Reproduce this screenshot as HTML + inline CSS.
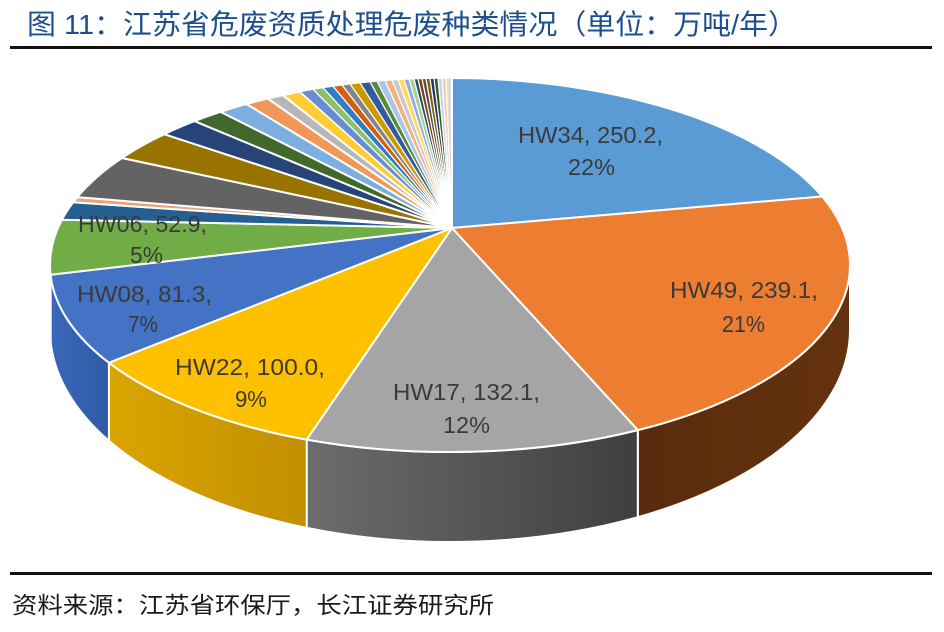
<!DOCTYPE html>
<html>
<head>
<meta charset="utf-8">
<style>
  html, body { margin:0; padding:0; background:#ffffff; }
  svg { display:block; }
  .lbl { font-family:"Liberation Sans", Arial, sans-serif; font-size:23px; fill:#3a3a3a; text-anchor:middle; }
</style>
</head>
<body>
<svg width="944" height="632" viewBox="0 0 944 632" xmlns="http://www.w3.org/2000/svg">
  <defs>
    <linearGradient id="gBrown" gradientUnits="userSpaceOnUse" x1="638" y1="0" x2="850" y2="0">
      <stop offset="0" stop-color="#5a2b0c"/>
      <stop offset="1" stop-color="#64320f"/>
    </linearGradient>
    <linearGradient id="gGray" gradientUnits="userSpaceOnUse" x1="307" y1="0" x2="638" y2="0">
      <stop offset="0" stop-color="#6c6c6c"/>
      <stop offset="1" stop-color="#3f3f42"/>
    </linearGradient>
    <linearGradient id="gGold" gradientUnits="userSpaceOnUse" x1="109" y1="0" x2="307" y2="0">
      <stop offset="0" stop-color="#d9a500"/>
      <stop offset="1" stop-color="#c28f00"/>
    </linearGradient>
    <linearGradient id="gBlue" gradientUnits="userSpaceOnUse" x1="50" y1="0" x2="109" y2="0">
      <stop offset="0" stop-color="#3a68b8"/>
      <stop offset="1" stop-color="#2f5aa6"/>
    </linearGradient>
  </defs>

  <!-- Title -->
  <text x="27" y="34" font-family="'Liberation Sans','Noto Sans CJK SC',sans-serif" font-size="28" fill="#1d4f8f" textLength="770" lengthAdjust="spacingAndGlyphs">图 11：江苏省危废资质处理危废种类情况（单位：万吨/年）</text>
  <rect x="10" y="46" width="922" height="3" fill="#111"/>

  <!-- Sides -->
  <g stroke="#ffffff" stroke-width="2" stroke-linejoin="round">
    <path d="M850,265 A400,187 0 0 1 637.8,430.1 L637.8,517.2 A400,212 0 0 0 850,330 Z" fill="url(#gBrown)"/>
    <path d="M637.8,430.1 A400,187 0 0 1 306.7,439.6 L306.7,527.9 A400,212 0 0 0 637.8,517.2 Z" fill="url(#gGray)"/>
    <path d="M306.7,439.6 A400,187 0 0 1 108.9,362.7 L108.9,440.8 A400,212 0 0 0 306.7,527.9 Z" fill="url(#gGold)"/>
    <path d="M108.9,362.7 A400,187 0 0 1 50.6,274.8 L50.6,341.1 A400,212 0 0 0 108.9,440.8 Z" fill="url(#gBlue)"/>
    <path d="M50.6,274.8 A400,187 0 0 1 50,265 L50,330 A400,212 0 0 0 50.6,341.1 Z" fill="#5a8f39"/>
  </g>

  <!-- Top face -->
  <g stroke="#ffffff" stroke-width="2" stroke-linejoin="round">
    <path d="M452,228 L452,78 A400,187 0 0 1 822.2,196.5 Z" fill="#5b9bd5"/>
    <path d="M452,228 L822.2,196.5 A400,187 0 0 1 637.8,430.1 Z" fill="#ed7d31"/>
    <path d="M452,228 L637.8,430.1 A400,187 0 0 1 306.7,439.6 Z" fill="#a5a5a5"/>
    <path d="M452,228 L306.7,439.6 A400,187 0 0 1 108.9,362.7 Z" fill="#ffc000"/>
    <path d="M452,228 L108.9,362.7 A400,187 0 0 1 50.6,274.8 Z" fill="#4472c4"/>
    <path d="M452,228 L50.6,274.8 A400,187 0 0 1 61.9,219.8 Z" fill="#70ad47"/>
    <path d="M452,228 L61.9,219.8 A400,187 0 0 1 73.2,202.3 Z" fill="#255e91"/>
    <path d="M452,228 L73.2,202.3 A400,187 0 0 1 77.3,197.1 Z" fill="#e9a27a"/>
    <path d="M452,228 L77.3,197.1 A400,187 0 0 1 121.9,158.0 Z" fill="#636363"/>
    <path d="M452,228 L121.9,158.0 A400,187 0 0 1 164.2,134.2 Z" fill="#997300"/>
    <path d="M452,228 L164.2,134.2 A400,187 0 0 1 194.5,121.1 Z" fill="#264478"/>
    <path d="M452,228 L194.5,121.1 A400,187 0 0 1 220.6,111.8 Z" fill="#43682b"/>
    <path d="M452,228 L220.6,111.8 A400,187 0 0 1 246.4,104.0 Z" fill="#7cafdd"/>
    <path d="M452,228 L246.4,104.0 A400,187 0 0 1 267.8,98.5 Z" fill="#f1975a"/>
    <path d="M452,228 L267.8,98.5 A400,187 0 0 1 282.8,95.1 Z" fill="#b7b7b7"/>
    <path d="M452,228 L282.8,95.1 A400,187 0 0 1 300,91.6 Z" fill="#ffcd33"/>
  </g>
  <g stroke="#ffffff" stroke-width="1.2" stroke-linejoin="round">
    <path d="M452,228 L300,91.6 L313,89.3 Z" fill="#698ed0"/>
    <path d="M452,228 L313,89.3 L323,87.7 Z" fill="#8cc168"/>
    <path d="M452,228 L323,87.7 L333,86.2 Z" fill="#327dc2"/>
    <path d="M452,228 L333,86.2 L342,84.9 Z" fill="#d26012"/>
    <path d="M452,228 L342,84.9 L350,83.9 Z" fill="#848484"/>
    <path d="M452,228 L350,83.9 L360,82.8 Z" fill="#cc9a00"/>
    <path d="M452,228 L360,82.8 L370,81.8 Z" fill="#335aa1"/>
    <path d="M452,228 L370,81.8 L377,81.1 Z" fill="#5a8a39"/>
    <path d="M452,228 L377,81.1 L385,80.5 Z" fill="#a9c7e8"/>
    <path d="M452,228 L385,80.5 L392,80.0 Z" fill="#f4b183"/>
    <path d="M452,228 L392,80.0 L398,79.6 Z" fill="#c9c9c9"/>
    <path d="M452,228 L398,79.6 L404,79.2 Z" fill="#ffd966"/>
    <path d="M452,228 L404,79.2 L409,79.0 Z" fill="#8faadc"/>
    <path d="M452,228 L409,79.0 L414,78.8 Z" fill="#a9d18e"/>
    <path d="M452,228 L414,78.8 L418,78.6 Z" fill="#1f4e79"/>
    <path d="M452,228 L418,78.6 L422,78.5 Z" fill="#843c0c"/>
    <path d="M452,228 L422,78.5 L426,78.4 Z" fill="#525252"/>
    <path d="M452,228 L426,78.4 L430,78.3 Z" fill="#7f6000"/>
    <path d="M452,228 L430,78.3 L434,78.2 Z" fill="#203864"/>
    <path d="M452,228 L434,78.2 L438,78.1 Z" fill="#385723"/>
    <path d="M452,228 L438,78.1 L442,78.05 Z" fill="#bdd7ee"/>
    <path d="M452,228 L442,78.05 L446,78 Z" fill="#f8cbad"/>
    <path d="M452,228 L446,78 L452,78 Z" fill="#dbdbdb"/>
  </g>
  <path d="M452,228 L452,78" stroke="#ffffff" stroke-width="2"/>

  <!-- Data labels -->
  <text class="lbl" x="590.5" y="143" textLength="145" lengthAdjust="spacingAndGlyphs">HW34, 250.2,</text>
  <text class="lbl" x="591.5" y="175" textLength="47" lengthAdjust="spacingAndGlyphs">22%</text>

  <text class="lbl" x="744" y="298" textLength="148" lengthAdjust="spacingAndGlyphs">HW49, 239.1,</text>
  <text class="lbl" x="743.5" y="332" textLength="43" lengthAdjust="spacingAndGlyphs">21%</text>

  <text class="lbl" x="466.5" y="400" textLength="147" lengthAdjust="spacingAndGlyphs">HW17, 132.1,</text>
  <text class="lbl" x="466.5" y="433" textLength="47" lengthAdjust="spacingAndGlyphs">12%</text>

  <text class="lbl" x="250" y="375" textLength="150" lengthAdjust="spacingAndGlyphs">HW22, 100.0,</text>
  <text class="lbl" x="251" y="407" textLength="32" lengthAdjust="spacingAndGlyphs">9%</text>

  <text class="lbl" x="144.5" y="302" textLength="135" lengthAdjust="spacingAndGlyphs">HW08, 81.3,</text>
  <text class="lbl" x="143" y="332" textLength="30" lengthAdjust="spacingAndGlyphs">7%</text>

  <text class="lbl" x="142.5" y="232" textLength="129" lengthAdjust="spacingAndGlyphs">HW06, 52.9,</text>
  <text class="lbl" x="146.5" y="263" textLength="33" lengthAdjust="spacingAndGlyphs">5%</text>

  <!-- Footer -->
  <rect x="10" y="572" width="922" height="3" fill="#111"/>
  <text x="12" y="613" font-family="'Liberation Sans','Noto Sans CJK SC',sans-serif" font-size="23" fill="#1a1a1a" textLength="482" lengthAdjust="spacingAndGlyphs">资料来源：江苏省环保厅，长江证券研究所</text>
</svg>
</body>
</html>
